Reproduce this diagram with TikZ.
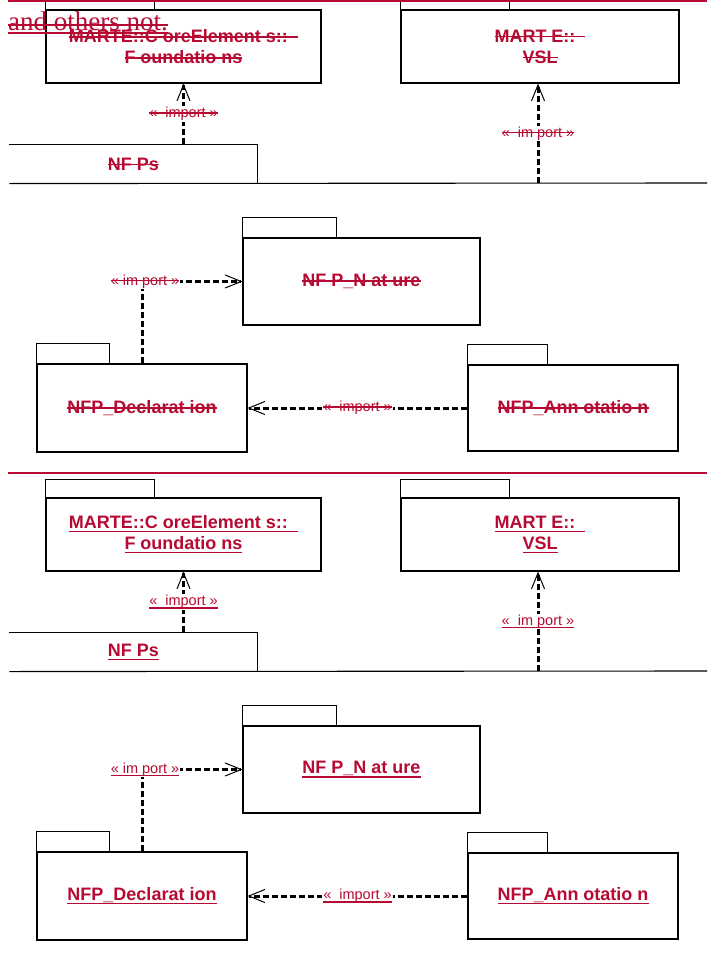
\documentclass[tikz,border=0pt]{standalone}
\usepackage{fontspec}
\setsansfont{Liberation Sans}
\newfontfamily\notefont{Liberation Serif}
\usepackage{tikz}
\usetikzlibrary{arrows.meta}
\definecolor{diffred}{RGB}{182,10,50}
\newcommand{\delline}[1]{\setbox0\hbox{#1}\rlap{\rule[0.27em]{\wd0}{1.4pt}}\box0}
\newcommand{\insline}[1]{\setbox0\hbox{#1}\rlap{\rule[-0.2em]{\wd0}{1.4pt}}\box0}

\begin{document}
\begin{tikzpicture}[x=1pt,y=-1pt,
        pkg/.style={draw, line width=1.1pt, fill=white, inner sep=0pt, text=diffred,
                align=center, font=\sffamily\bfseries\fontsize{18}{21}\selectfont},
        tab/.style={draw, line width=1.1pt},
        imp/.style={line width=3pt, dash pattern=on 6pt off 3pt,
                -{Straight Barb[length=16pt,width=13pt,line width=1pt]}},
        lbl/.style={fill=white, inner sep=1pt, text=diffred,
                font=\sffamily\fontsize{14.5}{16}\selectfont}]
        \useasboundingbox (0,0) rectangle (707,966);
        \foreach \dy/\mk in {0/\delline, 488/\insline}{
        \begin{scope}[shift={(0,\dy)}]
        \node[pkg, minimum width=275pt, minimum height=73pt] (fnd\dy) at (183.5,46.5)
                {\mk{MARTE::C oreElement s::~~}\\\mk{F oundatio ns}};
        \node[pkg, minimum width=278pt, minimum height=73pt] (vsl\dy) at (540,46.5)
                {\mk{MART E::~~}\\\mk{VSL}};
        \draw[tab] (fnd\dy.north west) rectangle ++(109,-18);
        \draw[tab] (vsl\dy.north west) rectangle ++(109,-18);
        \node[pkg, draw=none, fill=none, minimum width=247pt, minimum height=38pt] (nfp\dy) at (133.5,164) {\mk{NF Ps}};
        \draw[tab] (nfp\dy.north west) -- (nfp\dy.north east) -- (nfp\dy.south east);
        \draw[tab] (nfp\dy.south west) -- (707,183);
        \coordinate (v\dy) at (538,183);
        \node[pkg, minimum width=237pt, minimum height=87pt] (nat\dy) at (361.5,281.5) {\mk{NF P\_N at ure}};
        \node[pkg, minimum width=210pt, minimum height=88pt] (dec\dy) at (142,408) {\mk{NFP\_Declarat ion}};
        \node[pkg, minimum width=210pt, minimum height=86pt] (ann\dy) at (573,408) {\mk{NFP\_Ann otatio n}};
        \draw[tab] (nat\dy.north west) rectangle ++(94,-20);
        \draw[tab] (dec\dy.north west) rectangle ++(73,-20);
        \draw[tab] (ann\dy.north west) rectangle ++(80,-20);
        \draw[imp] (fnd\dy.south |- nfp\dy.north) -- node[lbl]{\mk{«~ import~»}} (fnd\dy.south);
        \draw[imp] (v\dy) -- node[lbl]{\mk{«~ im port~»}} (v\dy |- vsl\dy.south);
        \draw[imp] (dec\dy.north) |- node[lbl, xshift=3pt]{\mk{« im port »}} (nat\dy.west);
        \draw[imp] (ann\dy.west) -- node[lbl]{\mk{«~ import~»}} (dec\dy.east);
        \end{scope}
        }
        \node[anchor=base west, inner sep=0pt, text=diffred, font=\notefont\fontsize{27}{30}\selectfont] (others) at (8,31) {and others not.};
        \draw[diffred, line width=1.4pt] ([yshift=6pt]others.base west) -- ([yshift=6pt]others.base east);
        \draw[diffred, line width=1.4pt] ([yshift=-2pt]others.base west) -- ([yshift=-2pt]others.base east);
        \draw[diffred, line width=3pt] (8,1) -- (707,1);
        \draw[diffred, line width=2.5pt] (8,473) -- (707,473);
    \end{tikzpicture}
\end{document}
